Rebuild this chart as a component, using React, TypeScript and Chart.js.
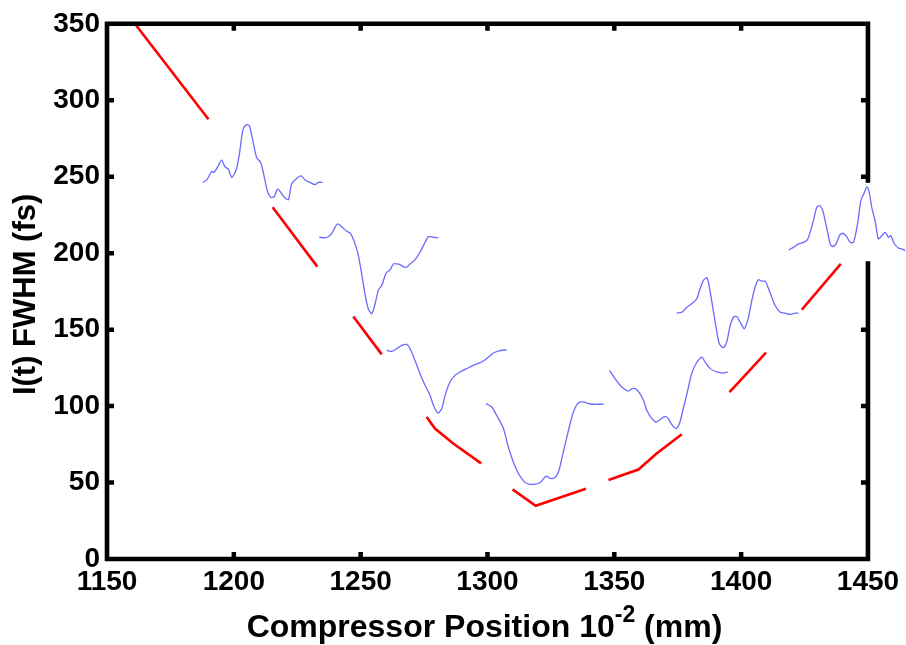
import React, { useEffect, useRef } from "react";
import { Chart, registerables } from "chart.js";

Chart.register(...registerables);

// ---- Data (x: compressor position 10^-2 mm, y: I(t) FWHM fs) ----
const xTickValues = [1150, 1200, 1250, 1300, 1350, 1400, 1450];
const yTickValues = [0, 50, 100, 150, 200, 250, 300, 350];

// Red fitted curve, visible pieces
const red1 = [[1161, 350], [1190, 287.6]];
const red2 = [[1215.3, 230], [1232.9, 191.2]];
const red3 = [[1247.1, 158.6], [1258.3, 133.8]];
const red4 = [[1276, 92.9], [1279.3, 85.3], [1286.5, 75.5], [1297.5, 62.5]];
const red5 = [[1309.9, 45.5], [1319, 34.8], [1338.8, 46]];
const red6 = [[1347.7, 51.6], [1359.5, 58.5], [1366.7, 69], [1376.6, 81.6]];
const red7 = [[1395.4, 109.2], [1400.9, 119], [1409.8, 134.9]];
const red8 = [[1423.9, 163], [1439.3, 193]];

// Blue measured traces
const blue1 = [
  [1187.7, 246.3], [1189.3, 247.8], [1191.3, 253.5], [1192.2, 252.8], [1193.9, 257.2], [1195.2, 260.9],
  [1196.5, 256.5], [1197.8, 255.0], [1199.2, 249.5], [1200.9, 254.4], [1202.2, 264.8], [1203.5, 280.0],
  [1204.8, 283.9], [1206.1, 283.3], [1207.5, 273.5], [1209.0, 262.6], [1210.6, 259.3], [1211.9, 250.6],
  [1213.2, 240.8], [1214.5, 236.5], [1215.9, 236.9], [1217.3, 242.0], [1218.9, 238.7], [1220.2, 236.1],
  [1221.5, 235.0], [1222.8, 245.2], [1224.5, 248.5], [1226.5, 250.6], [1228.1, 247.8], [1230.0, 246.3],
  [1232.0, 244.8], [1233.3, 246.3], [1235.0, 246.3],
];
const blue2 = [
  [1233.7, 210.4], [1236.0, 210.0], [1237.9, 211.5], [1239.2, 214.7], [1240.8, 219.1], [1242.5, 217.3],
  [1244.5, 214.3], [1246.0, 213.0], [1247.8, 206.1], [1249.1, 198.4], [1250.4, 186.5], [1251.7, 173.4],
  [1253.0, 163.6], [1254.4, 160.4], [1255.7, 166.9], [1257.0, 176.0], [1258.3, 178.8], [1260.0, 186.9],
  [1261.6, 189.1], [1262.9, 193.0], [1264.2, 193.0], [1265.5, 192.5], [1266.8, 191.2], [1268.2, 190.8],
  [1269.5, 193.0], [1271.4, 195.6], [1273.4, 200.6], [1275.4, 207.1], [1276.7, 210.8], [1278.7, 210.4],
  [1280.6, 210.0],
];
const blue3 = [
  [1260.3, 136.4], [1262.3, 135.8], [1264.2, 137.5], [1266.2, 139.7], [1268.2, 140.3], [1269.5, 137.5],
  [1271.4, 129.9], [1273.4, 121.2], [1275.4, 113.6], [1277.4, 107.0], [1278.7, 100.5], [1280.4, 95.5],
  [1282.0, 98.4], [1283.3, 107.0], [1285.2, 115.7], [1287.2, 120.1], [1289.2, 122.3], [1291.8, 124.5],
  [1294.4, 126.6], [1297.7, 128.8], [1300.3, 132.0], [1302.3, 134.7], [1304.3, 136.0], [1307.6, 136.9],
];
const blue4 = [
  [1299.4, 101.6], [1301.7, 99.4], [1303.6, 94.0], [1306.3, 85.3], [1308.2, 73.3], [1310.2, 63.5],
  [1312.2, 55.9], [1314.2, 51.1], [1316.1, 49.0], [1318.8, 49.0], [1320.7, 49.8], [1323.1, 54.2],
  [1324.7, 52.7], [1326.6, 53.3], [1328.0, 57.0], [1329.3, 65.7], [1331.0, 77.7], [1332.6, 88.6],
  [1334.1, 97.3], [1335.8, 102.0], [1337.8, 102.7], [1339.8, 101.6], [1341.7, 101.2], [1344.4, 101.2],
  [1345.7, 101.2],
];
const blue5 = [
  [1348.1, 123.4], [1350.3, 117.9], [1352.3, 113.6], [1354.2, 110.8], [1355.6, 109.9], [1356.9, 111.4],
  [1358.2, 111.4], [1359.9, 108.6], [1361.5, 103.8], [1362.8, 97.3], [1364.8, 91.8], [1366.5, 89.6],
  [1368.1, 91.2], [1370.0, 93.3], [1371.3, 91.8], [1372.6, 88.1], [1374.3, 85.3], [1375.7, 88.6],
  [1377.2, 98.4], [1378.8, 109.2], [1380.5, 121.2], [1382.2, 127.7], [1384.5, 132.0], [1385.8, 128.8],
  [1387.8, 124.5], [1390.4, 122.3], [1392.8, 121.6], [1394.7, 122.3],
];
const blue6 = [
  [1374.6, 160.8], [1376.6, 161.4], [1378.6, 164.7], [1380.5, 166.9], [1382.5, 170.2], [1383.8, 176.7],
  [1385.1, 182.1], [1386.5, 183.9], [1387.5, 177.7], [1388.8, 164.7], [1390.1, 151.6], [1391.4, 140.8],
  [1393.0, 138.2], [1394.3, 141.8], [1395.7, 152.7], [1397.0, 158.1], [1398.3, 158.6], [1399.6, 154.9],
  [1401.3, 150.6], [1402.9, 158.1], [1404.2, 169.0], [1405.5, 177.7], [1406.8, 182.6], [1408.2, 181.7],
  [1409.5, 181.7], [1410.8, 176.7], [1412.1, 171.2], [1413.4, 165.8], [1415.4, 161.4], [1417.3, 160.8],
  [1419.3, 159.9], [1421.3, 160.8], [1422.6, 160.8],
];
const blue7 = [
  [1418.7, 202.1], [1420.6, 203.8], [1422.6, 206.1], [1424.6, 207.1], [1426.1, 208.7], [1427.4, 214.7],
  [1428.8, 223.4], [1429.8, 229.9], [1431.1, 231.0], [1432.2, 227.8], [1433.1, 221.3], [1434.0, 214.7],
  [1435.1, 206.1], [1436.1, 204.3], [1437.4, 206.1], [1439.0, 212.1], [1440.3, 213.0], [1441.6, 210.8],
  [1443.0, 207.1], [1444.3, 207.1], [1445.9, 219.1], [1447.2, 234.3], [1448.6, 239.7], [1449.6, 243.5],
  [1450.5, 239.7], [1451.5, 229.9], [1452.8, 221.3], [1454.1, 209.3], [1455.5, 211.5], [1456.8, 213.6],
  [1458.1, 210.4], [1459.0, 211.5], [1460.3, 206.5], [1462.0, 203.4], [1463.4, 202.8], [1464.7, 201.7],
];

const redSegments = [red1, red2, red3, red4, red5, red6, red7, red8];
const blueTraces = [blue1, blue2, blue3, blue4, blue5, blue6, blue7];

const X_MIN = 1150;
const X_FRAME_MAX = 1450;
const X_VIEW_MAX = 1465; // room for the last trace running past the frame
const Y_MIN = 0;
const Y_MAX = 350;

const FONT = "'Liberation Sans', Arial, Helvetica, sans-serif";

const toPts = (arr: number[][]) => arr.map(([x, y]) => ({ x, y }));

const framePlugin = {
  id: "matlabFrame",
  afterDatasetsDraw(chart: any) {
    const { ctx, chartArea: a, scales } = chart;
    const xs = scales.x;
    const ys = scales.y;
    const left = xs.getPixelForValue(X_MIN);
    const right = xs.getPixelForValue(X_FRAME_MAX);
    const top = ys.getPixelForValue(Y_MAX);
    const bottom = ys.getPixelForValue(Y_MIN);
    // the last trace covers part of the right axis
    const yVals = blue7.map((p) => p[1]);
    const gapTop = ys.getPixelForValue(Math.max(...yVals) + 4);
    const gapBottom = ys.getPixelForValue(Math.min(...yVals) - 8.5);
    ctx.save();
    ctx.strokeStyle = "#000";
    ctx.lineWidth = 4.6;
    ctx.lineCap = "square";
    ctx.beginPath();
    ctx.moveTo(left, bottom);
    ctx.lineTo(left, top);
    ctx.lineTo(right, top);
    ctx.lineTo(right, gapTop);
    ctx.moveTo(left, bottom);
    ctx.lineTo(right, bottom);
    ctx.lineTo(right, gapBottom);
    ctx.stroke();
    ctx.lineCap = "butt";
    ctx.lineWidth = 4.5;
    ctx.beginPath();
    const tl = 7;
    xTickValues.slice(1, -1).forEach((v) => {
      const px = xs.getPixelForValue(v);
      ctx.moveTo(px, top);
      ctx.lineTo(px, top + tl);
      ctx.moveTo(px, bottom);
      ctx.lineTo(px, bottom - tl);
    });
    yTickValues.slice(1, -1).forEach((v) => {
      const py = ys.getPixelForValue(v);
      ctx.moveTo(left, py);
      ctx.lineTo(left + tl, py);
      if (py < gapTop - 3 || py > gapBottom + 3) {
        ctx.moveTo(right, py);
        ctx.lineTo(right - tl, py);
      }
    });
    ctx.stroke();

    // axis titles
    ctx.fillStyle = "#000";
    ctx.textBaseline = "alphabetic";
    const mainFont = `bold 32px ${FONT}`;
    const supFont = `bold 23px ${FONT}`;
    const p1 = "Compressor Position 10";
    const sup = "-2";
    const p3 = " (mm)";
    ctx.font = mainFont;
    const w1 = ctx.measureText(p1).width;
    const w3 = ctx.measureText(p3).width;
    ctx.font = supFont;
    const w2 = ctx.measureText(sup).width;
    const total = w1 + w2 + w3;
    const cx = (left + right) / 2 - 3;
    const sx = cx - total / 2;
    const base = 637;
    ctx.textAlign = "left";
    ctx.font = mainFont;
    ctx.fillText(p1, sx, base);
    ctx.font = supFont;
    ctx.fillText(sup, sx + w1, base - 15);
    ctx.font = mainFont;
    ctx.fillText(p3, sx + w1 + w2, base);

    ctx.translate(35, (top + bottom) / 2 + 3);
    ctx.rotate(-Math.PI / 2);
    ctx.textAlign = "center";
    ctx.font = `bold 31px ${FONT}`;
    ctx.fillText("I(t) FWHM (fs)", 0, 0);
    ctx.restore();
  },
};

export default function App() {
  const canvasRef = useRef<HTMLCanvasElement | null>(null);

  useEffect(() => {
    const canvas = canvasRef.current;
    if (!canvas) return;
    const datasets: any[] = [];
    redSegments.forEach((seg) => {
      datasets.push({
        data: toPts(seg),
        borderColor: "#ff0000",
        borderWidth: 2.6,
        pointRadius: 0,
        tension: 0,
        clip: false,
      });
    });
    blueTraces.forEach((tr) => {
      datasets.push({
        data: toPts(tr),
        borderColor: "rgba(80,80,255,0.85)",
        borderWidth: 1.3,
        pointRadius: 0,
        tension: 0.25,
        clip: false,
      });
    });

    const chart = new Chart(canvas, {
      type: "line",
      data: { datasets },
      plugins: [framePlugin],
      options: {
        animation: false,
        responsive: false,
        maintainAspectRatio: false,
        devicePixelRatio: 1,
        layout: { padding: { top: 23, right: 0, left: 0, bottom: 0 } },
        plugins: { legend: { display: false }, tooltip: { enabled: false } },
        scales: {
          x: {
            type: "linear",
            min: X_MIN,
            max: X_VIEW_MAX,
            afterBuildTicks: (s: any) => {
              s.ticks = xTickValues.map((v) => ({ value: v }));
            },
            afterFit: (s: any) => {
              s.height = 86;
            },
            grid: { display: false, drawTicks: false },
            border: { display: false },
            ticks: {
              color: "#000",
              padding: 6,
              maxRotation: 0,
              autoSkip: false,
              font: { family: FONT, size: 28, weight: "bold" },
              callback: (v: any) => String(v),
            },
            title: { display: false },
          },
          y: {
            type: "linear",
            min: Y_MIN,
            max: Y_MAX,
            afterBuildTicks: (s: any) => {
              s.ticks = yTickValues.map((v) => ({ value: v }));
            },
            afterFit: (s: any) => {
              s.width = 107;
            },
            grid: { display: false, drawTicks: false },
            border: { display: false },
            ticks: {
              color: "#000",
              padding: 7,
              autoSkip: false,
              font: { family: FONT, size: 28, weight: "bold" },
              callback: (v: any) => String(v),
            },
            title: { display: false },
          },
        },
      } as any,
    });
    return () => chart.destroy();
  }, []);

  return (
    <canvas
      ref={canvasRef}
      width={906}
      height={645}
      style={{ position: "fixed", left: 0, top: 0, width: 906, height: 645, display: "block", background: "#fff" }}
    />
  );
}
